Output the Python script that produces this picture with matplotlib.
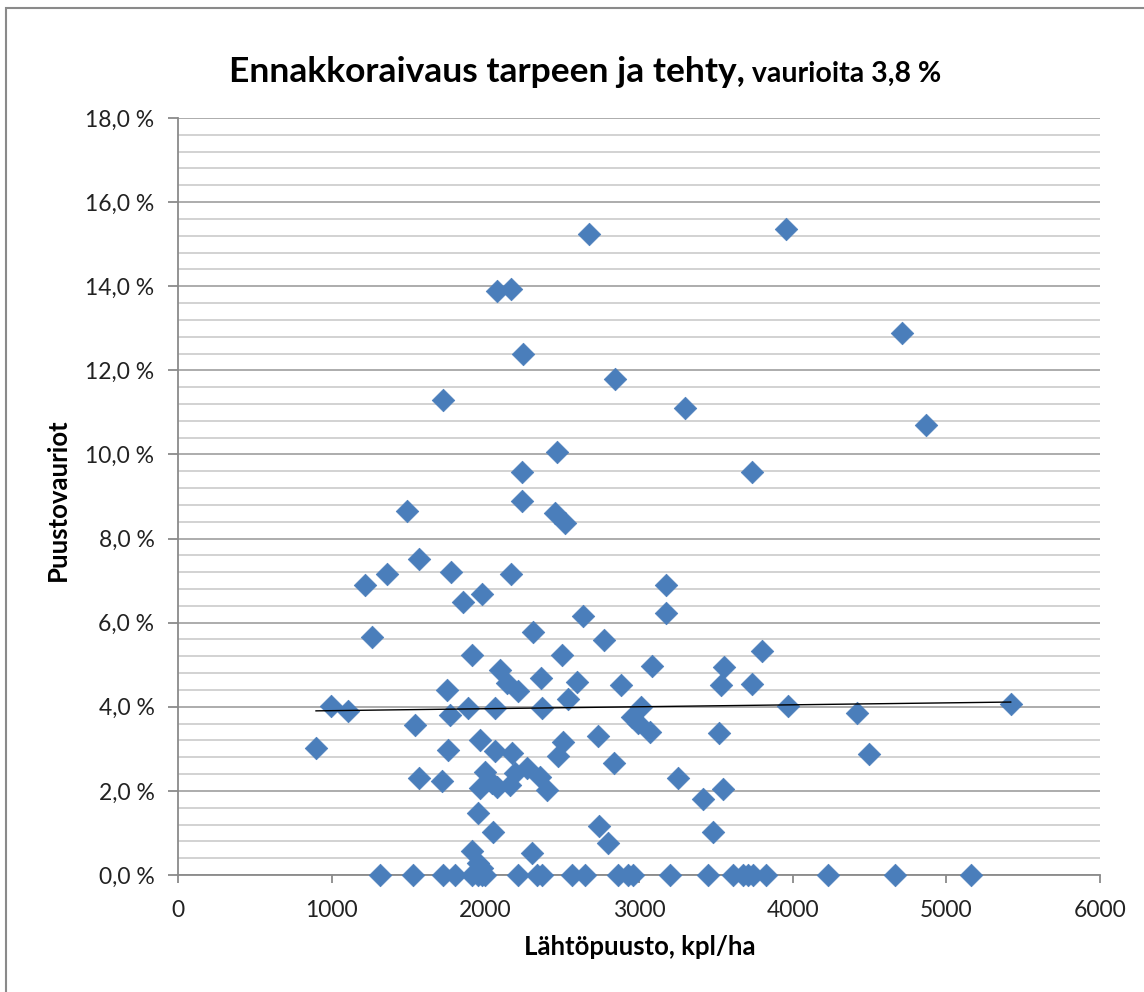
import numpy as np
import matplotlib
matplotlib.use("Agg")
import matplotlib.pyplot as plt
from matplotlib.ticker import FuncFormatter, MultipleLocator
from matplotlib.patches import Rectangle

# ---- data ----
stand_density = [
    2677, 3957, 2074, 2165, 4709, 2247, 2844, 1722, 3299, 4868,
    2464, 2241, 3733, 2241, 1488, 2453, 2519, 1571, 1358, 1217,
    1774, 2165, 3176, 1857, 1981, 3176, 2633, 1265, 2312, 2772,
    3798, 1911, 2497, 3082, 3555, 2095, 2362, 2139, 2594, 2883,
    3531, 3733, 2215, 1748, 2540, 996, 1104, 1889, 2063, 2367,
    3011, 3972, 5419, 1770, 4417, 2952, 2996, 1542, 3072, 3523,
    2731, 1965, 2508, 898, 1755, 2063, 2171, 4499, 2471, 2839,
    2269, 1998, 2193, 2356, 1571, 3256, 1716, 2041, 2160, 2074,
    1965, 3549, 2399, 3414, 1954, 2740, 2048, 3484, 2796, 1911,
    2306, 1954, 1976,
]
damage_pct = [
    15.24, 15.36, 13.89, 13.93, 12.88, 12.40, 11.79, 11.29, 11.11, 10.69,
    10.06, 9.59, 9.59, 8.89, 8.65, 8.61, 8.37, 7.52, 7.16, 6.90,
    7.21, 7.16, 6.90, 6.48, 6.67, 6.23, 6.15, 5.66, 5.77, 5.58,
    5.32, 5.24, 5.24, 4.96, 4.94, 4.88, 4.68, 4.56, 4.58, 4.52,
    4.52, 4.54, 4.38, 4.40, 4.18, 4.01, 3.91, 3.98, 3.98, 3.97,
    3.99, 4.03, 4.07, 3.81, 3.85, 3.75, 3.61, 3.57, 3.41, 3.37,
    3.31, 3.21, 3.17, 3.03, 2.98, 2.94, 2.91, 2.87, 2.82, 2.66,
    2.54, 2.46, 2.42, 2.34, 2.30, 2.30, 2.24, 2.18, 2.14, 2.10,
    2.06, 2.05, 2.02, 1.81, 1.48, 1.17, 1.03, 1.03, 0.75, 0.57,
    0.52, 0.28, 0.16,
]
zero_damage_density = [
    1315, 1530, 1726, 1803, 1911, 1954, 1976, 1998, 2215, 2334,
    2367, 2562, 2649, 2865, 2930, 2963, 3202, 3451, 3614, 3679,
    3712, 3744, 3824, 4232, 4666, 5158,
]

title_main = "Ennakkoraivaus tarpeen ja tehty,"
title_sub = " vaurioita 3,8 %"
x_label = "Lähtöpuusto, kpl/ha"
y_label = "Puustovauriot"

x_all = np.array(stand_density + zero_damage_density, dtype=float)
y_all = np.array(damage_pct + [0.0] * len(zero_damage_density), dtype=float)

FONT = ["Lato", "DejaVu Sans"]
plt.rcParams["font.family"] = FONT

W, H = 1144, 992
fig = plt.figure(figsize=(W / 100, H / 100), dpi=100)
fig.patch.set_facecolor("white")

# outer chart border
fig.add_artist(Rectangle((6 / W, -0.05), 1.1, (H - 8) / H + 0.05,
                         transform=fig.transFigure, fill=False,
                         edgecolor="#8a8a8a", linewidth=1.5))

ax = fig.add_axes([178 / W, 1 - 875 / H, (1100 - 178) / W, (875 - 118) / H])
ax.set_xlim(0, 6000)
ax.set_ylim(0, 18)
ax.xaxis.set_major_locator(MultipleLocator(1000))
ax.yaxis.set_major_locator(MultipleLocator(2))
ax.yaxis.set_minor_locator(MultipleLocator(0.4))
ax.yaxis.set_major_formatter(FuncFormatter(lambda v, p: f"{v:.1f}".replace(".", ",") + " %"))

ax.grid(True, which="major", axis="y", color="#a6a6a6", linewidth=1.3, zorder=0)
ax.grid(True, which="minor", axis="y", color="#cfcfcf", linewidth=1.3, zorder=0)
ax.set_axisbelow(True)

for s in ["top", "right"]:
    ax.spines[s].set_visible(False)
for s in ["left", "bottom"]:
    ax.spines[s].set_color("#8a8a8a")
    ax.spines[s].set_linewidth(1.3)

ax.tick_params(axis="both", which="major", direction="out",
               color="#8a8a8a", width=1.3, labelsize=16.5, labelcolor="#222222")
ax.tick_params(axis="y", which="minor", length=0)
ax.tick_params(axis="x", which="major", length=6, pad=12)
ax.tick_params(axis="y", which="major", length=7, pad=10)

ax.scatter(x_all, y_all, marker="D", s=11.5 ** 2, color="#4a7ebb",
           edgecolors="#4a7ebb", linewidths=0.5, zorder=3, clip_on=False)

# linear trendline
coef = np.polyfit(x_all, y_all, 1)
xt = np.array([x_all.min(), x_all.max()])
ax.plot(xt, np.polyval(coef, xt), color="black", linewidth=1.0, zorder=4)

# axis titles
fig.text(640 / W, 1 - 947 / H, x_label, fontsize=18.5, fontweight="bold",
         ha="center", va="center")
fig.text(58 / W, 1 - 500 / H, y_label, fontsize=18.5, fontweight="bold",
         ha="center", va="center", rotation=90)

# title: two runs of text
fig.canvas.draw()
r = fig.canvas.get_renderer()
base_y = 1 - 82 / H
t1 = fig.text(0, base_y, title_main, fontsize=25.5, fontweight="bold", va="baseline", ha="left")
t2 = fig.text(0, base_y, title_sub, fontsize=20.5, fontweight="bold", va="baseline", ha="left")
w1 = t1.get_window_extent(r).width
w2 = t2.get_window_extent(r).width
x0 = (585 - (w1 + w2) / 2) / W
t1.set_x(x0)
t2.set_x(x0 + w1 / W)

fig.savefig("out.png", dpi=100, facecolor="white")
